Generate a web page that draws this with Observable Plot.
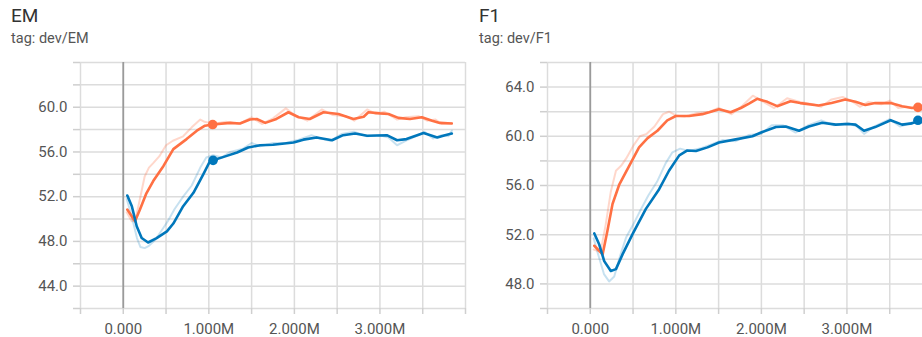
<!DOCTYPE html>
<html>
<head>
<meta charset="utf-8">
<script src="https://cdn.jsdelivr.net/npm/d3@7"></script>
<script src="https://cdn.jsdelivr.net/npm/@observablehq/plot@0.6"></script>
<style>
  html, body { margin: 0; padding: 0; background: #fff; overflow: hidden; width: 922px; height: 337px; }
  #wrap { position: relative; width: 922px; height: 337px; overflow: hidden; font-family: Roboto, sans-serif; }
  .panel { position: absolute; top: 0; }
  .title { position: absolute; top: 5px; font-size: 19px; color: #333; line-height: 21px; }
  .tag { position: absolute; top: 31px; font-size: 14.5px; color: #555; line-height: 16px; }
  .chart { position: absolute; top: 50px; left: 0; }
</style>
</head>
<body>
<div id="wrap"></div>
<script>
// ---------- data (x in millions of steps) ----------
const emOrangeX = [0.047,0.137,0.195,0.27,0.35,0.47,0.585,0.74,0.86,0.955,1.045,1.25,1.365,1.48,1.56,1.66,1.79,1.93,2.05,2.18,2.34,2.515,2.69,2.81,2.865,3.0,3.1,3.215,3.35,3.49,3.61,3.70,3.84];
const emOrangeY = [50.85,49.8,50.85,52.3,53.4,54.75,56.25,57.15,57.9,58.35,58.45,58.6,58.55,58.9,58.95,58.6,58.95,59.55,59.1,58.95,59.55,59.4,58.95,59.15,59.55,59.45,59.4,59.05,58.95,59.1,58.8,58.6,58.55];
const emBlueX = [0.047,0.1,0.157,0.215,0.29,0.39,0.51,0.585,0.70,0.82,0.935,1.015,1.05,1.21,1.33,1.46,1.60,1.75,1.99,2.105,2.26,2.44,2.57,2.71,2.85,3.08,3.20,3.31,3.51,3.67,3.76,3.84];
const emBlueY = [52.1,51.15,49.35,48.3,47.9,48.3,48.9,49.6,51.15,52.35,54.0,55.2,55.25,55.65,55.95,56.4,56.6,56.65,56.85,57.1,57.3,57.05,57.5,57.65,57.45,57.5,57.05,57.15,57.7,57.3,57.5,57.65];

const emOrangeRawX = [0.04,0.1,0.15,0.2,0.25,0.3,0.35,0.42,0.5,0.58,0.7,0.8,0.9,0.95,1.05,1.2,1.35,1.5,1.62,1.75,1.9,2.0,2.15,2.32,2.45,2.6,2.7,2.85,2.95,3.05,3.2,3.3,3.45,3.55,3.65,3.72,3.84];
const emOrangeRawY = [50.6,49.8,50.2,52.0,53.8,54.6,55.0,55.6,56.6,57.0,57.4,58.2,58.9,58.7,58.5,58.7,58.5,59.1,58.5,59.0,59.9,59.3,58.8,59.8,59.3,59.2,58.8,59.8,59.4,59.6,58.9,59.1,59.2,58.8,58.9,58.5,58.6];
const emBlueRawX = [0.04,0.1,0.16,0.2,0.25,0.3,0.38,0.45,0.52,0.6,0.7,0.8,0.9,0.97,1.05,1.15,1.25,1.4,1.5,1.6,1.75,1.9,2.05,2.2,2.3,2.42,2.55,2.7,2.85,3.0,3.1,3.2,3.3,3.45,3.52,3.62,3.72,3.8,3.84];
const emBlueRawY = [51.8,50.2,48.3,47.5,47.4,47.6,48.2,49.0,49.8,50.9,52.0,53.0,54.6,55.5,55.7,55.5,56.0,56.3,56.8,56.5,56.8,56.8,57.1,57.5,57.2,57.0,57.6,57.8,57.4,57.5,57.3,56.6,57.0,57.5,57.8,57.2,57.5,57.4,57.9];

const f1OrangeX = [0.047,0.144,0.20,0.26,0.34,0.455,0.57,0.67,0.785,0.90,1.0,1.155,1.31,1.39,1.505,1.64,1.76,1.855,1.95,2.07,2.185,2.34,2.455,2.67,2.82,2.98,3.10,3.215,3.33,3.51,3.645,3.76,3.83];
const f1OrangeY = [51.1,50.4,52.3,54.5,56.1,57.6,59.1,59.85,60.45,61.3,61.65,61.65,61.8,61.95,62.2,61.95,62.3,62.65,63.05,62.8,62.45,62.85,62.7,62.5,62.7,63.0,62.8,62.55,62.7,62.7,62.45,62.3,62.35];
const f1BlueX = [0.047,0.105,0.163,0.24,0.30,0.377,0.494,0.65,0.805,0.92,1.04,1.135,1.235,1.37,1.505,1.70,1.895,2.01,2.17,2.285,2.44,2.555,2.71,2.87,3.02,3.10,3.20,3.33,3.51,3.645,3.76,3.83];
const f1BlueY = [52.1,51.2,49.85,49.05,49.2,50.4,52.05,54.1,55.7,57.2,58.45,58.85,58.8,59.1,59.5,59.75,60.0,60.35,60.75,60.8,60.45,60.8,61.1,60.95,61.0,60.95,60.45,60.75,61.3,60.95,61.05,61.25];

const f1OrangeRawX = [0.04,0.12,0.18,0.24,0.3,0.36,0.42,0.5,0.58,0.66,0.75,0.85,0.92,1.0,1.1,1.25,1.4,1.5,1.65,1.78,1.9,2.0,2.15,2.3,2.45,2.6,2.7,2.82,2.95,3.05,3.15,3.25,3.4,3.5,3.6,3.7,3.83];
const f1OrangeRawY = [50.8,50.6,52.8,55.5,57.2,57.6,58.2,59.2,60.0,60.2,60.8,61.8,62.0,61.7,61.6,61.9,62.0,62.3,61.8,62.5,63.3,62.9,62.3,63.1,62.8,62.6,62.4,63.0,63.2,62.9,62.4,62.8,62.6,62.9,62.3,62.4,62.3];
const f1BlueRawX = [0.04,0.1,0.16,0.22,0.28,0.35,0.42,0.5,0.58,0.68,0.78,0.88,0.96,1.05,1.15,1.28,1.4,1.55,1.7,1.85,2.0,2.12,2.25,2.4,2.55,2.7,2.85,3.0,3.12,3.2,3.32,3.5,3.62,3.75,3.83];
const f1BlueRawY = [51.7,50.2,48.8,48.2,48.6,50.3,51.8,52.8,53.9,55.2,56.3,57.8,58.7,59.0,58.8,59.0,59.3,59.7,59.6,60.1,60.2,60.9,60.9,60.3,60.9,61.3,60.9,61.1,60.8,60.2,60.8,61.4,60.8,61.1,61.3];

// hover dots
const emDotX = [1.045, 1.05];
const emDotY = [58.45, 55.25];
const f1DotX = [3.83, 3.83];
const f1DotY = [62.35, 61.3];
const dotColors = ["#ff7043", "#0077bb"];

// axes / ticks
const xGrid = [-0.5,0,0.5,1,1.5,2,2.5,3,3.5,4];
const xLabelValues = [0,1,2,3];
const xLabelTexts = ["0.000","1.000M","2.000M","3.000M"];
const emYDomain = [42, 64];
const emYGrid = [42,44,46,48,50,52,54,56,58,60,62,64];
const emYLabels = [44,48,52,56,60];
const f1YDomain = [46, 66];
const f1YGrid = [46,48,50,52,54,56,58,60,62,64,66];
const f1YLabels = [48,52,56,60,64];

const ORANGE = "#ff7043", BLUE = "#0077bb";

function pts(xs, ys) { return xs.map((x, i) => ({x, y: ys[i]})); }

function makePanel({left, title, tag, titleLeft, width, marginLeft, yDomain, yGrid, yLabels,
                    oRawX, oRawY, bRawX, bRawY, oX, oY, bX, bY, dX, dY}) {
  const panel = document.createElement("div");
  panel.className = "panel";
  panel.style.left = left + "px";
  panel.style.width = width + "px";
  panel.style.height = "337px";
  const t = document.createElement("div");
  t.className = "title"; t.textContent = title; t.style.left = titleLeft + "px";
  const g = document.createElement("div");
  g.className = "tag"; g.textContent = tag; g.style.left = titleLeft + "px";
  panel.appendChild(t); panel.appendChild(g);

  const xFmt = v => { const i = xLabelValues.indexOf(v); return i >= 0 ? xLabelTexts[i] : ""; };
  const yFmt = v => yLabels.includes(v) ? v.toFixed(1) : "";

  const chart = Plot.plot({
    width, height: 287,
    marginLeft, marginRight: width - marginLeft - 385, marginTop: 12, marginBottom: 29,
    style: {fontFamily: "Roboto, sans-serif", fontSize: "15px", color: "#555", background: "transparent"},
    x: {domain: [-0.5, 4.0]},
    y: {domain: yDomain},
    marks: [
      Plot.ruleX(xGrid, {stroke: "#dcdcdc", strokeWidth: 1.5}),
      Plot.ruleY(yGrid, {stroke: "#dcdcdc", strokeWidth: 1.5}),
      Plot.ruleX([0], {stroke: "#9a9a9a", strokeWidth: 1.8}),
      Plot.axisX(xGrid, {tickFormat: xFmt, tickSize: 6, tickPadding: 9, stroke: "#cfcfcf", strokeWidth: 1.5, fill: "#555", fontSize: 15, label: null}),
      Plot.axisY(yGrid, {tickFormat: yFmt, tickSize: 7, tickPadding: 6, stroke: "#cfcfcf", strokeWidth: 1.5, fill: "#555", fontSize: 15, label: null}),
      Plot.line(pts(oRawX, oRawY), {x: "x", y: "y", stroke: ORANGE, strokeOpacity: 0.28, strokeWidth: 2, curve: "linear"}),
      Plot.line(pts(bRawX, bRawY), {x: "x", y: "y", stroke: BLUE, strokeOpacity: 0.22, strokeWidth: 2, curve: "linear"}),
      Plot.line(pts(oX, oY), {x: "x", y: "y", stroke: ORANGE, strokeWidth: 2.6, curve: "linear"}),
      Plot.line(pts(bX, bY), {x: "x", y: "y", stroke: BLUE, strokeWidth: 2.6, curve: "linear"}),
      Plot.dot(dX.map((x, i) => ({x, y: dY[i], c: dotColors[i]})), {x: "x", y: "y", r: 4.8, fill: "c", stroke: "none"})
    ]
  });
  chart.classList.add("chart");
  chart.style.overflow = "visible";
  panel.appendChild(chart);
  return panel;
}

const wrap = document.getElementById("wrap");
wrap.appendChild(makePanel({
  left: 0, title: "EM", tag: "tag: dev/EM", titleLeft: 11, width: 470, marginLeft: 80,
  yDomain: emYDomain, yGrid: emYGrid, yLabels: emYLabels,
  oRawX: emOrangeRawX, oRawY: emOrangeRawY, bRawX: emBlueRawX, bRawY: emBlueRawY,
  oX: emOrangeX, oY: emOrangeY, bX: emBlueX, bY: emBlueY, dX: emDotX, dY: emDotY
}));
wrap.appendChild(makePanel({
  left: 460, title: "F1", tag: "tag: dev/F1", titleLeft: 19, width: 480, marginLeft: 87,
  yDomain: f1YDomain, yGrid: f1YGrid, yLabels: f1YLabels,
  oRawX: f1OrangeRawX, oRawY: f1OrangeRawY, bRawX: f1BlueRawX, bRawY: f1BlueRawY,
  oX: f1OrangeX, oY: f1OrangeY, bX: f1BlueX, bY: f1BlueY, dX: f1DotX, dY: f1DotY
}));
</script>
</body>
</html>
